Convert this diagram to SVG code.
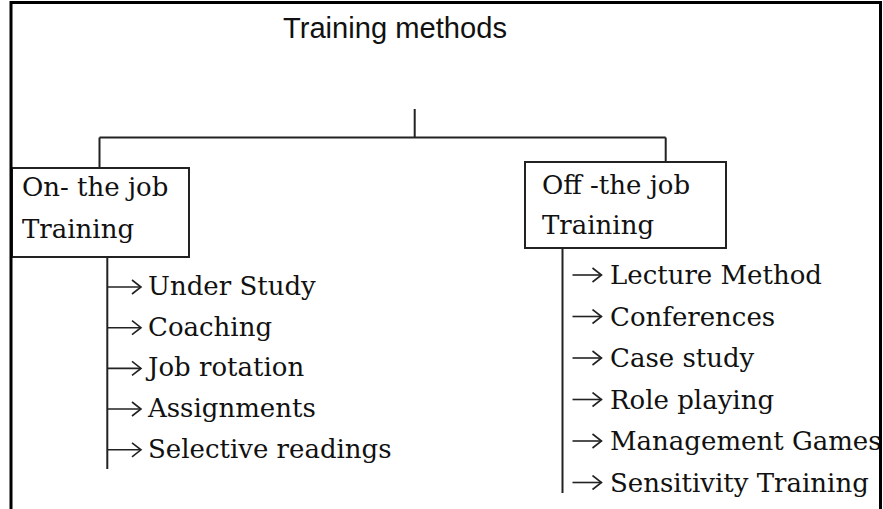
<svg xmlns="http://www.w3.org/2000/svg" width="883" height="509" viewBox="0 0 883 509">
<style>
.title{font-family:"Liberation Sans",Arial,sans-serif;font-size:30px;fill:#111}
.lbl{font-family:"DejaVu Serif","Liberation Serif",serif;font-size:26px;fill:#111}
.box{fill:#fff;stroke:#222;stroke-width:2}
.con{fill:none;stroke:#222;stroke-width:2}
.arr{fill:none;stroke:#222;stroke-width:1.6;marker-end:url(#chev)}
</style>
<defs>
<marker id="chev" markerUnits="userSpaceOnUse" markerWidth="12" markerHeight="16" refX="10" refY="8" orient="auto">
<path d="M1,1 L10,8 L1,15" fill="none" stroke="#222" stroke-width="1.6"/>
</marker>
</defs>
<rect width="883" height="509" fill="#fff"/>
<g id="title"><text class="title" x="283" y="38" textLength="224" lengthAdjust="spacingAndGlyphs">Training methods</text></g>
<g id="connectors">
<path class="con" d="M414.7,109 V137.5 M99.5,137.5 H665.7 M99.5,137.5 V168 M665.7,137.5 V162"/>
<path class="con" d="M107.3,257 V469 M562.5,248 V493"/>
<path class="arr" d="M108,287 H141"/>
<path class="arr" d="M108,327.7 H141"/>
<path class="arr" d="M108,368.4 H141"/>
<path class="arr" d="M108,409 H141"/>
<path class="arr" d="M108,449.8 H141"/>
<path class="arr" d="M572.5,275 H601.5"/>
<path class="arr" d="M572.5,316.5 H601.5"/>
<path class="arr" d="M572.5,358 H601.5"/>
<path class="arr" d="M572.5,399.5 H601.5"/>
<path class="arr" d="M572.5,441 H601.5"/>
<path class="arr" d="M572.5,482.5 H601.5"/>
</g>
<g id="on-the-job">
<rect class="box" x="12" y="168" width="177" height="89"/>
<text class="lbl" x="22" y="196">On- the job</text>
<text class="lbl" x="22" y="238">Training</text>
</g>
<g id="off-the-job">
<rect class="box" x="525" y="162" width="201" height="86"/>
<text class="lbl" x="542" y="194">Off -the job</text>
<text class="lbl" x="542" y="233.5">Training</text>
</g>
<g id="on-items">
<text class="lbl" x="148" y="295">Under Study</text>
<text class="lbl" x="148" y="335.7">Coaching</text>
<text class="lbl" x="148" y="376.4">Job rotation</text>
<text class="lbl" x="148" y="417">Assignments</text>
<text class="lbl" x="148" y="457.8">Selective readings</text>
</g>
<g id="off-items">
<text class="lbl" x="610" y="284">Lecture Method</text>
<text class="lbl" x="610" y="325.5">Conferences</text>
<text class="lbl" x="610" y="367">Case study</text>
<text class="lbl" x="610" y="408.5">Role playing</text>
<text class="lbl" x="610" y="450">Management Games</text>
<text class="lbl" x="610" y="491.5">Sensitivity Training</text>
</g>
<g id="frame">
<rect x="881.5" y="0" width="1.5" height="509" fill="#fff"/>
<path d="M11,509 V2.5 H880.5 V509" fill="none" stroke="#000" stroke-width="3"/>
</g>
</svg>
